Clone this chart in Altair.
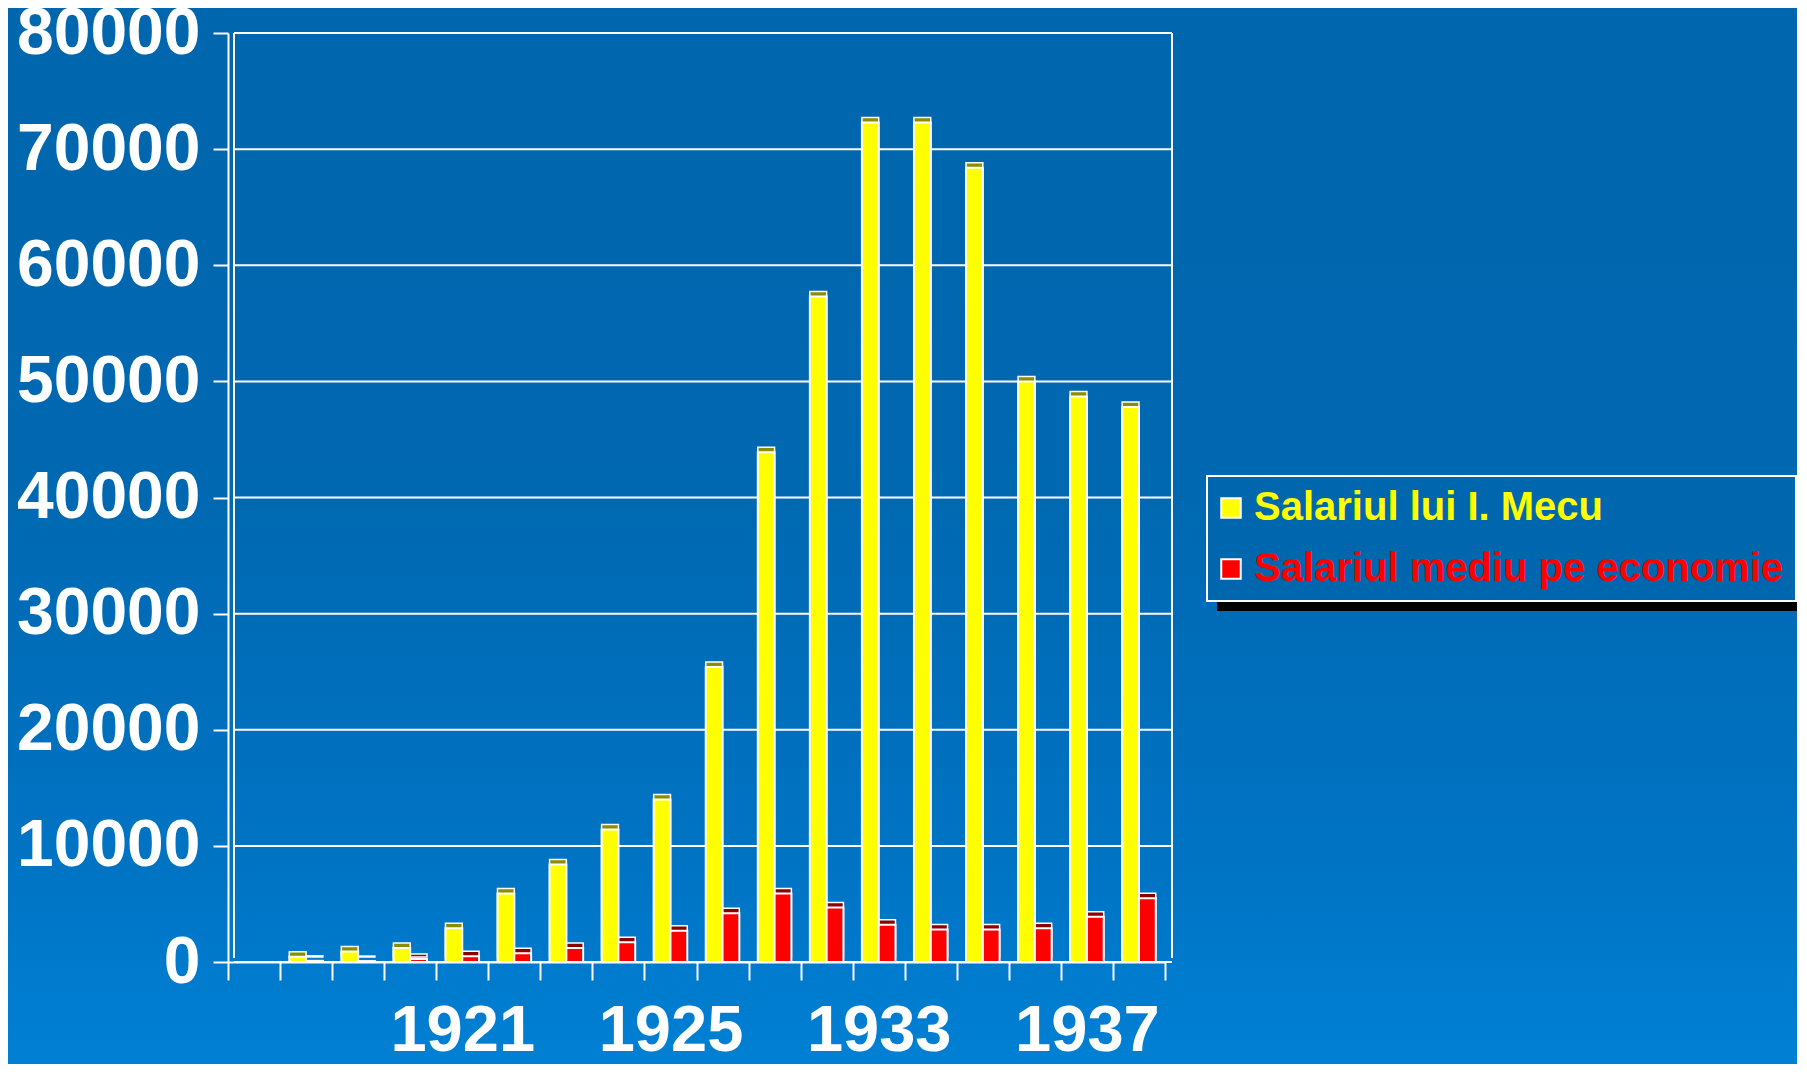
import altair as alt
import pandas as pd

# ---------------- data ----------------
years = ["1917", "1918", "1919", "1920", "1921", "1922", "1923", "1924", "1925",
         "1930", "1931", "1932", "1933", "1934", "1935", "1936", "1937", "1938"]
shown_labels = ["1921", "1925", "1933", "1937"]
series_names = ["Salariul lui I. Mecu", "Salariul mediu pe economie"]
mecu = [0, 450, 900, 1200, 2900, 5900, 8400, 11400, 14000, 25400,
        43900, 57300, 72300, 72300, 68400, 50000, 48700, 47800]
mediu = [0, 100, 80, 250, 500, 750, 1200, 1700, 2700, 4200,
         5900, 4700, 3200, 2800, 2800, 2900, 3900, 5500]
y_ticks = [0, 10000, 20000, 30000, 40000, 50000, 60000, 70000, 80000]

series_colors = ["#FFFF00", "#FF0000"]
series_dark = ["#8C8C00", "#8C0000"]

rows = []
for yr, a, b in zip(years, mecu, mediu):
    if a > 0:
        rows.append({"year": yr, "series": series_names[0], "value": a})
    if b > 0:
        rows.append({"year": yr, "series": series_names[1], "value": b})
df = pd.DataFrame(rows)

W, H = 937, 929
FONT = "Liberation Sans"

label_list = "[" + ",".join("'" + s + "'" for s in shown_labels) + "]"

x_enc = alt.X(
    "year:N",
    sort=years,
    scale=alt.Scale(domain=years, paddingInner=0, paddingOuter=0),
    axis=alt.Axis(
        title=None, labelAngle=0, tickBand="extent",
        labelExpr=f"indexof({label_list}, datum.value) >= 0 ? datum.label : ''",
        labelFont=FONT, labelFontWeight="bold", labelFontSize=65, labelColor="white",
        labelPadding=19, tickSize=18, tickColor="white", tickWidth=2,
        domainColor="white", domainWidth=2, grid=False, zindex=1, labelOverlap=False,
    ),
)
y_axis = alt.Axis(
    title=None, values=y_ticks, format="d",
    labelFont=FONT, labelFontWeight="bold", labelFontSize=66, labelColor="white",
    labelPadding=13, labelLimit=0, tickSize=15, tickColor="white", tickWidth=2,
    domainColor="white", domainWidth=2, grid=False, zindex=1,
)
y_scale = alt.Scale(domain=[0, 80000], nice=False)
y_enc = alt.Y("value:Q", scale=y_scale, axis=y_axis)
xoff_enc = alt.XOffset(
    "series:N", sort=series_names,
    scale=alt.Scale(domain=series_names, paddingInner=0, paddingOuter=0.55),
)

dummy = pd.DataFrame({"k": [0]})

# background gradient
bg = alt.Chart(dummy).mark_rect(
    fill=alt.LinearGradient(
        gradient="linear", x1=0, x2=0, y1=0, y2=1,
        stops=[
            alt.GradientStop(offset=0, color="#0066AD"),
            alt.GradientStop(offset=0.45, color="#0068B1"),
            alt.GradientStop(offset=0.8, color="#0074C4"),
            alt.GradientStop(offset=1, color="#0082D7"),
        ],
    )
).encode(x=alt.value(-240), x2=alt.value(1600), y=alt.value(-40), y2=alt.value(1060))

# gridlines on the back wall
grid = alt.Chart(pd.DataFrame({"value": y_ticks})).mark_rule(
    color="white", strokeWidth=2
).encode(y=y_enc, x=alt.value(6), x2=alt.value(W + 7))

walls = alt.Chart(pd.DataFrame({"xp": [6, W + 7]})).mark_rule(
    color="white", strokeWidth=2
).encode(x=alt.X("xp:Q", scale=None), y=alt.value(0), y2=alt.value(H - 4))

shadow = alt.Chart(dummy).mark_rect(color="black").encode(
    x=alt.value(989), x2=alt.value(1576), y=alt.value(453), y2=alt.value(578)
)

base = alt.Chart(df).encode(x=x_enc, xOffset=xoff_enc, y=y_enc)

shade_names = [s + " (umbra)" for s in series_names]
back = base.transform_calculate(
    shade="datum.series + ' (umbra)'"
).mark_bar(
    xOffset=4, x2Offset=4, yOffset=-5, y2Offset=-5, stroke="white", strokeWidth=1.5
).encode(
    fill=alt.Fill("shade:N", scale=alt.Scale(domain=shade_names, range=series_dark), legend=None)
)

front = base.mark_bar(stroke="white", strokeWidth=2).encode(
    color=alt.Color(
        "series:N",
        scale=alt.Scale(domain=series_names, range=series_colors),
        legend=alt.Legend(
            title=None, orient="none", legendX=979, legendY=443, zindex=1,
            symbolType="square", symbolSize=380, symbolStrokeColor="white",
            symbolStrokeWidth=2, symbolOpacity=1, symbolOffset=alt.ExprRef("-8"),
            labelFont=FONT, labelFontWeight="bold", labelFontSize=40,
            labelColor=alt.ExprRef(f"datum.label == '{series_names[0]}' ? '{series_colors[0]}' : '{series_colors[1]}'"),
            labelLimit=0, labelOffset=3, rowPadding=21, padding=12,
            fillColor="#0067AF", strokeColor="white",
        ),
    )
)

chart = alt.layer(bg, shadow, grid, walls, back, front).properties(
    width=W, height=H,
    autosize=alt.AutoSizeParams(type="none"),
    padding={"left": 220, "top": 25, "right": 632, "bottom": 102},
    background="#0068B0",
).configure_view(stroke=None).configure_legend(strokeWidth=2)

chart.save("out.html", embed_options={"renderer": "svg", "actions": False})
